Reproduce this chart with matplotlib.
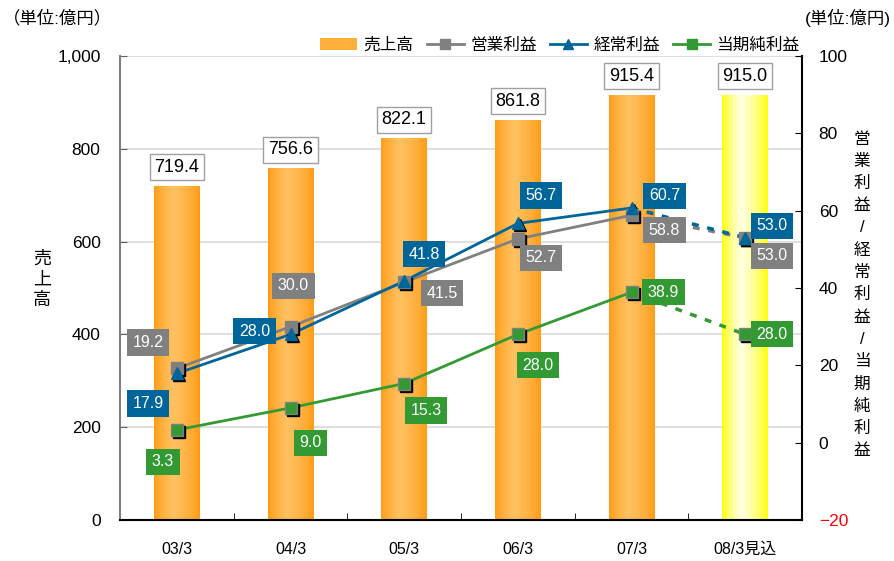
import numpy as np
import matplotlib
matplotlib.use("Agg")
import matplotlib.pyplot as plt
from matplotlib.transforms import offset_copy
from matplotlib.patches import Patch
from matplotlib.lines import Line2D

plt.rcParams['font.family'] = ['Liberation Sans', 'Noto Sans CJK JP', 'DejaVu Sans']

categories = ['03/3', '04/3', '05/3', '06/3', '07/3', '08/3見込']
sales = [719.4, 756.6, 822.1, 861.8, 915.4, 915.0]
op_profit = [19.2, 30.0, 41.5, 52.7, 58.8, 53.0]
ord_profit = [17.9, 28.0, 41.8, 56.7, 60.7, 53.0]
net_profit = [3.3, 9.0, 15.3, 28.0, 38.9, 28.0]

# label offsets in pixels (dx, dy) from each point
op_off = [(-29, 26), (3, 41), (38, -11), (23, -19), (33, -15), (27, -18)]
ord_off = [(-29, -30), (-36, 3), (20, 27), (23, 28), (33, 12), (27, 12)]
net_off = [(-14, -32), (20, -35), (22, -27), (20, -31), (32, 0), (27, 0)]

GRAY = '#808080'
BLUE = '#006699'
GREEN = '#339933'


def gradient(edge, center, c=0.42, n=64):
    t = np.linspace(0, 1, n)
    w = np.where(t < c, t / c, (1 - t) / (1 - c))
    w = w ** 0.7
    edge = np.array(matplotlib.colors.to_rgb(edge))
    center = np.array(matplotlib.colors.to_rgb(center))
    img = edge[None, :] * (1 - w[:, None]) + center[None, :] * w[:, None]
    return img[None, :, :]


fig = plt.figure(figsize=(8.94, 5.61), dpi=100)
ax = fig.add_axes([120 / 894, 1 - 520 / 561, 682 / 894, 464 / 561])
ax2 = ax.twinx()

x = np.arange(len(categories))
bw = 0.4
orange = gradient('#ff9a12', '#ffc262')
yellow = gradient('#ffff00', '#ffffe6')
for i, v in enumerate(sales):
    img = yellow if i == len(sales) - 1 else orange
    ax.imshow(img, extent=[x[i] - bw / 2, x[i] + bw / 2, 0, v], aspect='auto', zorder=2,
              interpolation='bilinear')
    ax.annotate(f'{v:.1f}', (x[i], v), xytext=(0, 19), textcoords='offset pixels',
                ha='center', va='center', fontsize=13, color='black', zorder=5,
                bbox=dict(boxstyle='square,pad=0.25', fc='white', ec='#a0a0a0', lw=1))

ax.set_xlim(-0.5, len(categories) - 0.5)
ax.set_ylim(0, 1000)
ax.set_yticks(range(0, 1001, 200))
ax.set_yticklabels(['0', '200', '400', '600', '800', '1,000'])
ax.yaxis.grid(True, color='#d9d9d9', lw=1.2, zorder=0)
ax.set_axisbelow(True)
ax.set_xticks(x)
ax.set_xticklabels(categories)
ax.set_xticks(np.arange(0.5, len(categories) - 0.5), minor=True)
ax.tick_params(axis='x', which='major', length=0, pad=16, labelsize=11.5)
ax.tick_params(axis='x', which='minor', direction='in', length=5, color='black')
ax.tick_params(axis='y', direction='in', length=5, pad=14, labelsize=12.5, color='#606060')
ax.spines['top'].set_visible(False)
ax.spines['right'].set_visible(False)
ax.spines['left'].set_color(GRAY)
ax.spines['left'].set_linewidth(1.5)
ax.spines['bottom'].set_linewidth(1.5)

ax2.set_ylim(-20, 100)
ax2.set_yticks(range(-20, 101, 20))
ax2.tick_params(axis='y', direction='in', length=5, pad=12, labelsize=12.5)
ax2.get_yticklabels()[0].set_color('red')
for s in ['top', 'left', 'bottom']:
    ax2.spines[s].set_visible(False)
ax2.spines['right'].set_linewidth(1.5)

shadow = offset_copy(ax2.transData, fig=fig, x=2, y=-2, units='dots')
series = [
    (op_profit, GRAY, 's', op_off),
    (ord_profit, BLUE, '^', ord_off),
    (net_profit, GREEN, 's', net_off),
]
for vals, col, mk, offs in series:
    ax2.plot(x[:5], vals[:5], color=col, lw=2, zorder=3)
    ax2.plot(x[4:], vals[4:], color=col, lw=2.5, ls=(0, (2, 2.5)), zorder=3)
    ax2.plot(x, vals, ls='none', marker=mk, ms=9, color='black', transform=shadow, zorder=3.5)
    ax2.plot(x, vals, ls='none', marker=mk, ms=9, mfc=col,
             mec=GRAY if col != BLUE else BLUE, mew=1, zorder=4)
for vals, col, mk, offs in series:
    for i, v in enumerate(vals):
        ax2.annotate(f'{v:.1f}', (x[i], v), xytext=offs[i], textcoords='offset pixels',
                     ha='center', va='center', fontsize=11.5, color='white', zorder=6,
                     bbox=dict(boxstyle='square,pad=0.35', fc=col, ec='none'))

fig.text(3 / 894, 1 - 18 / 561, '（単位:億円）', fontsize=12.5, ha='left', va='center')
fig.text(891 / 894, 1 - 18 / 561, '(単位:億円)', fontsize=12.5, ha='right', va='center')
fig.text(42 / 894, 1 - 280 / 561, '売\n上\n高', fontsize=13, ha='center', va='center',
         linespacing=1.3)
fig.text(862 / 894, 1 - 295 / 561, '\n'.join('営業利益/経常利益/当期純利益'), fontsize=12,
         ha='center', va='center', linespacing=1.6)

handles = [
    Patch(facecolor='#ffae3c', edgecolor='none'),
    Line2D([], [], color=GRAY, lw=2, marker='s', ms=7),
    Line2D([], [], color=BLUE, lw=2, marker='^', ms=7),
    Line2D([], [], color=GREEN, lw=2, marker='s', ms=7),
]
fig.legend(handles, ['売上高', '営業利益', '経常利益', '当期純利益'], loc='center',
           bbox_to_anchor=(560 / 894, 1 - 45 / 561), ncol=4, frameon=False, fontsize=12,
           handlelength=2.2, handletextpad=0.4, columnspacing=0.8)

fig.savefig('out.png', dpi=100)
